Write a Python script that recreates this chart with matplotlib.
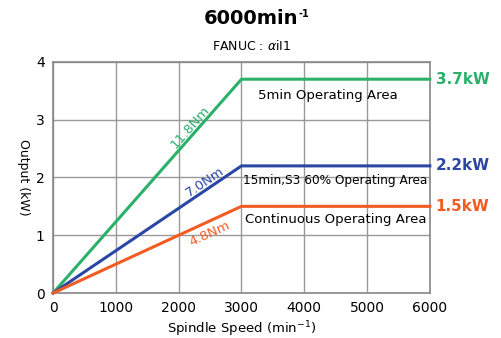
import matplotlib
matplotlib.use("Agg")
import matplotlib.pyplot as plt
import numpy as np

speeds = [0, 3000, 6000]
out_5min = [0, 3.7, 3.7]
out_s3 = [0, 2.2, 2.2]
out_cont = [0, 1.5, 1.5]
xticks = [0, 1000, 2000, 3000, 4000, 5000, 6000]
yticks = [0, 1, 2, 3, 4]

green = "#2bb06a"
blue = "#2b47a6"
orange = "#f25b22"

fig = plt.figure(figsize=(5.01, 3.38), dpi=100)
ax = fig.add_axes([0.106, 0.133, 0.752, 0.684])
ax.set_xlim(0, 6000)
ax.set_ylim(0, 4)
ax.set_xticks(xticks)
ax.set_yticks(yticks)
ax.grid(True, color="#999999", linewidth=1.0)
ax.tick_params(length=0, labelsize=10, pad=6)
for s in ax.spines.values():
    s.set_color("#888888")
    s.set_linewidth(1.2)

ax.plot(speeds, out_5min, color=green, lw=2.2, clip_on=False, zorder=3)
ax.plot(speeds, out_s3, color=blue, lw=2.2, clip_on=False, zorder=3)
ax.plot(speeds, out_cont, color=orange, lw=2.2, clip_on=False, zorder=3)

ax.text(6090, 3.7, "3.7kW", color=green, fontsize=11, fontweight="bold", va="center", ha="left", clip_on=False)
ax.text(6090, 2.2, "2.2kW", color=blue, fontsize=11, fontweight="bold", va="center", ha="left", clip_on=False)
ax.text(6090, 1.5, "1.5kW", color=orange, fontsize=11, fontweight="bold", va="center", ha="left", clip_on=False)

ax.text(3270, 3.42, "5min Operating Area", fontsize=9.5, va="center", ha="left")
ax.text(3020, 1.95, "15min,S3 60% Operating Area", fontsize=8.7, va="center", ha="left")
ax.text(3060, 1.28, "Continuous Operating Area", fontsize=9.5, va="center", ha="left")

def ang(slope):
    p0 = ax.transData.transform((0, 0))
    p1 = ax.transData.transform((1000, slope * 1000))
    return np.degrees(np.arctan2(p1[1] - p0[1], p1[0] - p0[0]))

ax.text(2175, 2.87, "11.8Nm", color=green, fontsize=9.5, rotation=ang(3.7 / 3000), ha="center", va="center", rotation_mode="anchor")
ax.text(2413, 1.92, "7.0Nm", color=blue, fontsize=9.5, rotation=ang(2.2 / 3000), ha="center", va="center", rotation_mode="anchor")
ax.text(2492, 1.02, "4.8Nm", color=orange, fontsize=9.5, rotation=ang(1.5 / 3000), ha="center", va="center", rotation_mode="anchor")

ax.set_xlabel("Spindle Speed (min$^{-1}$)", fontsize=9.5, labelpad=3)
ax.set_ylabel("Output (kW)", fontsize=9, rotation=270, labelpad=12)
ax.yaxis.set_label_coords(-0.095, 0.5)

fig.text(0.595, 0.958, "-1", fontsize=7, fontweight="bold", ha="left", va="center")
fig.text(0.595, 0.945, "6000min", fontsize=14, fontweight="bold", ha="right", va="center")
fig.text(0.503, 0.865, "FANUC : $\\alpha$iI1", fontsize=9, ha="center", va="center")

fig.savefig("out.png", dpi=100)
